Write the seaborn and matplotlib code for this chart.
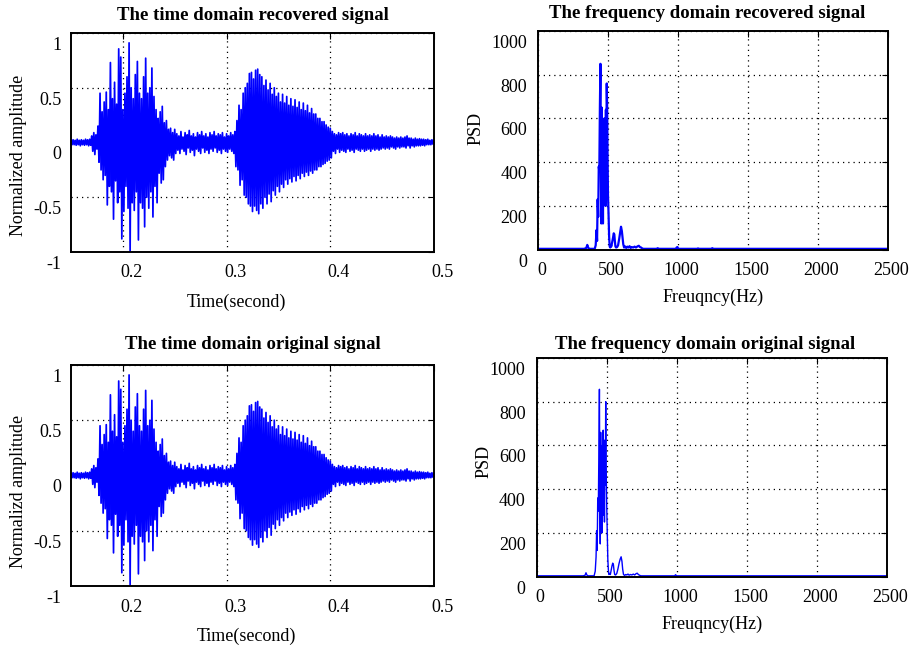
import numpy as np
import pandas as pd
import matplotlib
matplotlib.use("Agg")
import matplotlib.pyplot as plt
from matplotlib.transforms import ScaledTranslation
import seaborn as sns

# ---------------- data ----------------
# time-domain waveform: peak (upper) and trough (lower) samples every 2 ms from 0.150 s
t_start = 0.150
t_step = 0.002
wave_upper = [
    0.02, 0.025, 0.02, 0.03, 0.02, 0.025, 0.02, 0.03, 0.025, 0.03,
    0.06, 0.09, 0.07, 0.15, 0.45, 0.28, 0.37, 0.46, 0.30, 0.73,
    0.40, 0.55, 0.35, 0.855, 0.78, 0.30, 0.45, 0.60, 0.91, 0.50,
    0.40, 0.62, 0.74, 0.45, 0.40, 0.60, 0.77, 0.45, 0.50, 0.68,
    0.42, 0.30, 0.22, 0.28, 0.33, 0.18, 0.20, 0.12, 0.13, 0.09,
    0.12, 0.08, 0.06, 0.10, 0.05, 0.09, 0.07, 0.11, 0.06, 0.08,
    0.05, 0.09, 0.07, 0.10, 0.06, 0.08, 0.05, 0.09, 0.07, 0.10,
    0.06, 0.08, 0.07, 0.09, 0.05, 0.08, 0.06, 0.09, 0.07, 0.10,
    0.20, 0.34, 0.30, 0.45, 0.50, 0.54, 0.63, 0.64, 0.58, 0.66,
    0.67, 0.62, 0.60, 0.52, 0.57, 0.48, 0.54, 0.44, 0.50, 0.42,
    0.45, 0.37, 0.44, 0.36, 0.42, 0.34, 0.40, 0.33, 0.39, 0.32,
    0.37, 0.30, 0.36, 0.29, 0.34, 0.27, 0.31, 0.26, 0.26, 0.22,
    0.22, 0.19, 0.19, 0.16, 0.14, 0.13, 0.10, 0.08, 0.07, 0.09,
    0.08, 0.09, 0.07, 0.08, 0.06, 0.08, 0.07, 0.09, 0.06, 0.08,
    0.07, 0.06, 0.08, 0.06, 0.07, 0.06, 0.08, 0.06, 0.07, 0.05,
    0.07, 0.05, 0.06, 0.05, 0.06, 0.05, 0.04, 0.05, 0.04, 0.05,
    0.04, 0.05, 0.06, 0.04, 0.04, 0.03, 0.04, 0.03, 0.035, 0.03,
    0.03, 0.025, 0.03, 0.02, 0.025, 0.02,
]
wave_lower = [
    -0.02, -0.02, -0.025, -0.02, -0.03, -0.02, -0.025, -0.02, -0.03, -0.025,
    -0.08, -0.11, -0.06, -0.18, -0.25, -0.34, -0.30, -0.57, -0.40, -0.45,
    -0.70, -0.35, -0.55, -0.45, -0.88, -0.63, -0.40, -0.60, -0.99, -0.55,
    -0.62, -0.45, -0.89, -0.55, -0.60, -0.77, -0.50, -0.60, -0.45, -0.68,
    -0.40, -0.55, -0.28, -0.37, -0.34, -0.22, -0.16, -0.12, -0.14, -0.16,
    -0.10, -0.07, -0.10, -0.06, -0.08, -0.11, -0.05, -0.09, -0.07, -0.12,
    -0.06, -0.08, -0.10, -0.05, -0.09, -0.07, -0.10, -0.06, -0.08, -0.05,
    -0.09, -0.07, -0.10, -0.06, -0.08, -0.09, -0.06, -0.08, -0.10, -0.22,
    -0.25, -0.39, -0.34, -0.48, -0.50, -0.56, -0.58, -0.63, -0.58, -0.62,
    -0.65, -0.56, -0.60, -0.50, -0.56, -0.47, -0.54, -0.44, -0.48, -0.40,
    -0.45, -0.38, -0.41, -0.34, -0.38, -0.33, -0.36, -0.31, -0.35, -0.30,
    -0.33, -0.28, -0.31, -0.27, -0.30, -0.26, -0.28, -0.25, -0.25, -0.22,
    -0.22, -0.20, -0.19, -0.17, -0.16, -0.14, -0.08, -0.10, -0.06, -0.09,
    -0.07, -0.08, -0.09, -0.06, -0.08, -0.07, -0.09, -0.06, -0.07, -0.08,
    -0.06, -0.08, -0.07, -0.06, -0.08, -0.06, -0.07, -0.06, -0.07, -0.06,
    -0.05, -0.06, -0.05, -0.06, -0.04, -0.05, -0.06, -0.04, -0.05, -0.04,
    -0.04, -0.05, -0.03, -0.05, -0.03, -0.04, -0.03, -0.03, -0.03, -0.025,
    -0.03, -0.02, -0.02, -0.02, -0.015, -0.015,
]

# PSD of recovered signal
freq_rec = [0, 330, 345, 352, 358, 366, 405, 412, 418, 422, 426, 430, 434, 438, 442, 446,
            449, 452, 455, 458, 461, 464, 467, 470, 473, 476, 479, 482, 485, 488, 491, 494,
            497, 500, 504, 508, 512, 516, 520, 524, 530, 536, 541, 545, 549, 553, 558, 565,
            572, 580, 587, 593, 599, 604, 609, 615, 622, 630, 638, 646, 654, 662, 670, 680,
            690, 700, 710, 720, 728, 736, 744, 752, 850, 855, 860, 985, 990, 996, 1002,
            1138, 1143, 1148, 1240, 1245, 1250, 2500]
psd_rec = [4, 4, 8, 22, 10, 4, 4, 20, 90, 40, 230, 150, 380, 360, 650, 850,
           400, 120, 650, 350, 550, 120, 500, 250, 600, 300, 520, 200, 640, 400, 760, 650,
           420, 250, 160, 60, 15, 10, 20, 15, 35, 55, 75, 70, 40, 15, 10, 12,
           20, 50, 80, 105, 85, 55, 25, 10, 15, 8, 14, 10, 16, 8, 12, 10,
           14, 10, 15, 18, 12, 10, 6, 4, 4, 7, 4, 4, 10, 12, 4,
           4, 6, 4, 4, 7, 4, 4]

# PSD of original signal
freq_orig = [0, 330, 345, 352, 358, 366, 410, 418, 424, 428, 432, 436, 440, 444, 448, 451,
             454, 457, 460, 463, 466, 469, 472, 475, 478, 481, 484, 487, 490, 493, 496, 500,
             504, 508, 512, 516, 521, 526, 532, 538, 543, 548, 552, 557, 564, 572, 580, 588,
             596, 603, 609, 614, 620, 628, 636, 644, 652, 660, 670, 680, 690, 700, 710, 718,
             726, 736, 746, 985, 992, 999, 2500]
psd_orig = [4, 4, 6, 18, 8, 4, 4, 25, 90, 210, 120, 360, 300, 560, 857, 350,
            150, 660, 300, 520, 200, 600, 280, 670, 350, 625, 250, 560, 420, 800, 500, 330,
            200, 80, 30, 10, 15, 10, 30, 50, 62, 55, 30, 10, 8, 15, 35, 60,
            80, 91, 70, 35, 10, 6, 10, 8, 12, 7, 10, 8, 12, 8, 14, 16,
            10, 6, 4, 4, 9, 4, 4]

titles = ["The time domain recovered signal", "The frequency domain recovered signal",
          "The time domain original signal", "The frequency domain original signal"]
time_ticks = [0.2, 0.3, 0.4, 0.5]
amp_ticks = [-1, -0.5, 0, 0.5, 1]
amp_labels = ["-1", "-0.5", "0", "0.5", "1"]
freq_ticks = [0, 500, 1000, 1500, 2000, 2500]
psd_ticks = [0, 200, 400, 600, 800, 1000]

# ---------------- build waveform table ----------------
n = len(wave_upper)
t_up = t_start + t_step * np.arange(n)
times = np.empty(2 * n)
amps = np.empty(2 * n)
times[0::2] = t_up
times[1::2] = t_up + t_step / 2
amps[0::2] = wave_upper
amps[1::2] = wave_lower
wave_df = pd.DataFrame({"t": times, "a": amps})
wave_df = wave_df[wave_df["t"] <= 0.5]

# ---------------- style ----------------
sns.set_theme(style="white")
plt.rcParams["font.family"] = ["Liberation Serif", "DejaVu Serif"]
plt.rcParams["font.size"] = 13
plt.rcParams["text.color"] = "black"
plt.rcParams["axes.labelcolor"] = "black"
plt.rcParams["xtick.color"] = "black"
plt.rcParams["ytick.color"] = "black"

fig = plt.figure(figsize=(9.12, 6.48), dpi=100)
W, H = 912.0, 648.0


def add_ax(l, t, r, b):
    return fig.add_axes([l / W, 1 - b / H, (r - l) / W, (b - t) / H])


ax_tl = add_ax(71, 33, 434, 252)
ax_tr = add_ax(538, 31, 888, 249.7)
ax_bl = add_ax(71, 365, 434, 586)
ax_br = add_ax(536.7, 358, 886.7, 576.7)

grid_kw = dict(color="black", linestyle=(0, (1, 3.2)), linewidth=0.9)


def style_axes(ax, xdx, ydy, xpad, ypad):
    ax.tick_params(direction="in", top=True, right=True, length=4, width=0.8,
                   colors="black", labelsize=13, pad=xpad, axis="x")
    ax.tick_params(direction="in", top=True, right=True, length=4, width=0.8,
                   colors="black", labelsize=13, pad=ypad, axis="y")
    for s in ax.spines.values():
        s.set_visible(True)
        s.set_color("black")
        s.set_linewidth(1.4)
    ax.grid(True, **grid_kw)
    ax.set_axisbelow(True)
    off_x = ScaledTranslation(xdx / 100.0, 0, fig.dpi_scale_trans)
    off_y = ScaledTranslation(0, -ydy / 100.0, fig.dpi_scale_trans)
    for tk in ax.xaxis.get_major_ticks():
        tk.label1.set_transform(tk.label1.get_transform() + off_x)
    for tk in ax.yaxis.get_major_ticks():
        tk.label1.set_transform(tk.label1.get_transform() + off_y)


# time domain plots
for ax, title, ty, lab, xlab_x, ylab_y in [
    (ax_tl, titles[0], 1.078, "Normalized amplitude", 0.456, 0.443),
    (ax_bl, titles[2], 1.095, "Normalizd amplitude", 0.484, 0.43),
]:
    sns.lineplot(data=wave_df, x="t", y="a", ax=ax, color="blue", linewidth=1.25,
                 estimator=None, sort=False)
    ax.set_xlim(0.15, 0.5)
    ax.set_ylim(-1, 1)
    ax.set_xticks(time_ticks)
    ax.set_xticklabels([f"{v:g}" for v in time_ticks])
    ax.set_yticks(amp_ticks)
    ax.set_yticklabels(amp_labels)
    style_axes(ax, 8.5, 10.5, 9, 7)
    ax.set_xlabel("Time(second)", fontsize=13, color="black")
    ax.set_ylabel(lab, fontsize=13, color="black")
    ax.xaxis.set_label_coords(xlab_x, -0.228)
    ax.xaxis.label.set_va("center")
    ax.yaxis.set_label_coords(-0.146, ylab_y)
    ax.yaxis.label.set_va("center")
    ax.text(0.5, ty, title, transform=ax.transAxes, ha="center", va="center",
            fontsize=13.5, fontweight="bold", color="black")

# frequency plots
for ax, title, fx, fy, lw, tx, ty, ylx, yly in [
    (ax_tr, titles[1], freq_rec, psd_rec, 1.6, 0.483, 1.082, -0.177, 0.556),
    (ax_br, titles[3], freq_orig, psd_orig, 1.0, 0.481, 1.064, -0.150, 0.526),
]:
    sns.lineplot(x=fx, y=fy, ax=ax, color="blue", linewidth=lw, estimator=None, sort=False)
    ax.set_xlim(0, 2500)
    ax.set_ylim(0, 1000)
    ax.set_xticks(freq_ticks)
    ax.set_xticklabels([str(v) for v in freq_ticks])
    ax.set_yticks(psd_ticks)
    ax.set_yticklabels([str(v) for v in psd_ticks])
    style_axes(ax, 3.5, 10.5, 9, 8)
    ax.set_xlabel("Freuqncy(Hz)", fontsize=13, color="black")
    ax.set_ylabel("PSD", fontsize=13, color="black")
    ax.xaxis.set_label_coords(0.5, -0.22)
    ax.xaxis.label.set_va("center")
    ax.yaxis.set_label_coords(ylx, yly)
    ax.yaxis.label.set_va("center")
    ax.text(tx, ty, title, transform=ax.transAxes, ha="center", va="center",
            fontsize=13.5, fontweight="bold", color="black")

fig.savefig("out.png", dpi=100, facecolor="white")
